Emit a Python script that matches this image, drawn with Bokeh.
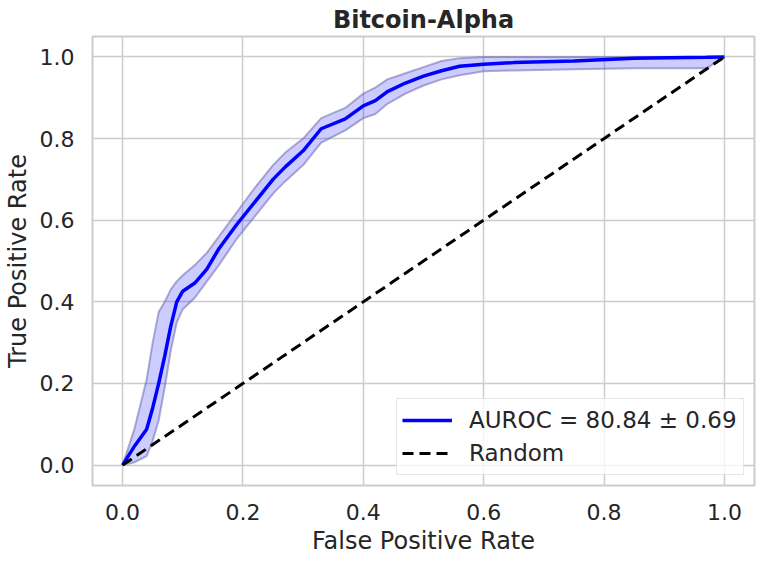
from bokeh.plotting import figure
from bokeh.models import Legend, LegendItem, Range1d, FixedTicker, NumeralTickFormatter, ColumnDataSource
from bokeh.embed import file_html
from bokeh.resources import INLINE

title_text = "Bitcoin-Alpha"
x_label = "False Positive Rate"
y_label = "True Positive Rate"
legend_mean = "AUROC = 80.84 ± 0.69"
legend_random = "Random"
ticks = [0.0, 0.2, 0.4, 0.6, 0.8, 1.0]

fpr = [0.0, 0.02, 0.04, 0.05, 0.06, 0.07, 0.08, 0.09, 0.10, 0.12, 0.14, 0.16, 0.19, 0.22, 0.25,
       0.27, 0.30, 0.33, 0.37, 0.40, 0.42, 0.44, 0.47, 0.50, 0.53, 0.56, 0.60, 0.65, 0.75, 0.85,
       0.97, 1.0]
tpr_mean = [0.0, 0.047, 0.088, 0.14, 0.20, 0.267, 0.34, 0.40, 0.426, 0.446, 0.48, 0.53, 0.59,
            0.645, 0.70, 0.73, 0.77, 0.824, 0.848, 0.88, 0.893, 0.915, 0.936, 0.953, 0.966,
            0.977, 0.982, 0.986, 0.99, 0.997, 0.999, 1.0]
tpr_upper = [0.0, 0.09, 0.21, 0.30, 0.375, 0.40, 0.43, 0.45, 0.465, 0.49, 0.52, 0.56, 0.62,
             0.68, 0.735, 0.765, 0.80, 0.85, 0.875, 0.91, 0.925, 0.945, 0.96, 0.975, 0.99,
             0.997, 1.0, 1.0, 1.0, 1.0, 1.0, 1.0]
tpr_lower = [0.0, 0.007, 0.022, 0.06, 0.11, 0.19, 0.28, 0.35, 0.382, 0.41, 0.45, 0.49, 0.555,
             0.61, 0.665, 0.695, 0.735, 0.79, 0.82, 0.85, 0.86, 0.885, 0.91, 0.93, 0.945,
             0.955, 0.965, 0.967, 0.97, 0.972, 0.972, 1.0]
random_x = [0.0, 1.0]
random_y = [0.0, 1.0]

FONT = "DejaVu Sans"
TXT = "#262626"
GRID = "#cccccc"

src = ColumnDataSource(dict(fpr=fpr, mean=tpr_mean, up=tpr_upper, lo=tpr_lower))

p = figure(frame_width=662, frame_height=449, output_backend="svg", toolbar_location=None,
           x_range=Range1d(-0.05, 1.05), y_range=Range1d(-0.05, 1.05),
           min_border_left=85, min_border_right=3, min_border_top=29, min_border_bottom=72)

p.title.text = title_text
p.title.text_font = FONT
p.title.text_font_size = "24px"
p.title.text_font_style = "bold"
p.title.text_color = TXT
p.title.align = "center"
p.title.standoff = 6

p.background_fill_color = "white"
p.border_fill_color = "white"
p.outline_line_color = GRID
p.outline_line_width = 2

for ax in (p.xaxis[0], p.yaxis[0]):
    ax.ticker = FixedTicker(ticks=ticks)
    ax.formatter = NumeralTickFormatter(format="0.0")
    ax.axis_line_color = None
    ax.major_tick_line_color = None
    ax.minor_tick_line_color = None
    ax.major_label_text_font = FONT
    ax.major_label_text_font_size = "22px"
    ax.major_label_text_color = TXT
    ax.axis_label_text_font = FONT
    ax.axis_label_text_font_size = "24px"
    ax.axis_label_text_font_style = "normal"
    ax.axis_label_text_color = TXT
    ax.major_label_standoff = 12

p.xaxis.axis_label = x_label
p.yaxis.axis_label = y_label
p.xaxis.axis_label_standoff = 4
p.yaxis.axis_label_standoff = 5

p.xgrid.ticker = FixedTicker(ticks=ticks)
p.ygrid.ticker = FixedTicker(ticks=ticks)
p.grid.grid_line_color = GRID
p.grid.grid_line_width = 1.5

p.varea(x="fpr", y1="lo", y2="up", source=src, fill_color="blue", fill_alpha=0.2)
p.line(x="fpr", y="up", source=src, line_color="#5f5fa8", line_alpha=0.5, line_width=2)
p.line(x="fpr", y="lo", source=src, line_color="#5f5fa8", line_alpha=0.5, line_width=2)
mean_r = p.line(x="fpr", y="mean", source=src, line_color="blue", line_width=3.5)
rand_r = p.line(x=random_x, y=random_y, line_color="black", line_width=3, line_dash="11 6")

legend = Legend(items=[LegendItem(label=legend_mean, renderers=[mean_r]),
                       LegendItem(label=legend_random, renderers=[rand_r])],
                location="bottom_right")
legend.label_text_font = FONT
legend.label_text_font_size = "23px"
legend.label_text_color = TXT
legend.glyph_width = 50
legend.glyph_height = 32
legend.label_height = 32
legend.label_width = 269
legend.label_standoff = 17
legend.spacing = 1
legend.padding = 5
legend.margin = 10
legend.border_line_color = "#d0d0d0"
legend.border_line_width = 1.5
legend.background_fill_alpha = 0.8
p.add_layout(legend, "center")

open("out.html", "w").write(file_html(p, INLINE))
